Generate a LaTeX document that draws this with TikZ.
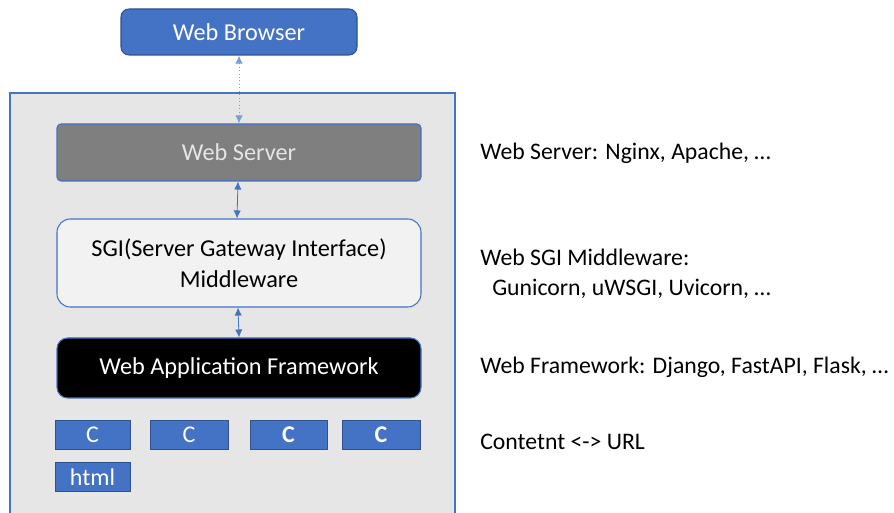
\documentclass[tikz,border=0pt]{standalone}
\usepackage{fontspec}
\setmainfont{Carlito}
\usetikzlibrary{arrows.meta}
\definecolor{accent}{HTML}{4472C4}
\definecolor{accentdark}{HTML}{2F528F}
\definecolor{panel}{HTML}{E7E6E6}
\definecolor{servergray}{HTML}{7F7F7F}
\definecolor{sgifill}{HTML}{F2F2F2}
\tikzset{
  px/.style={x=0.75pt,y=-0.75pt},
  layer/.style={draw=accent,line width=0.8pt,rounded corners=6pt,inner sep=0pt,
                font=\fontsize{18.2}{23.3}\selectfont,align=center},
  chip/.style={draw=accentdark,line width=0.6pt,fill=accent,text=white,inner sep=0pt,
               minimum height={29*0.75pt},font=\fontsize{18}{20}\selectfont},
  link/.style={draw=accent,line width=0.6pt,{Latex[length=6pt,width=5.5pt]}-{Latex[length=6pt,width=5.5pt]}},
  note/.style={anchor=west,inner sep=0pt,font=\fontsize{17.8}{22.5}\selectfont,align=left},
}
\begin{document}
\begin{tikzpicture}[px]
\useasboundingbox (0,0) rectangle (894,513);
% outer panel
\begin{scope}
\clip (0,0) rectangle (894,513);
\draw[draw=accent,line width=0.8pt,fill=panel] (10,93) rectangle (455,530);
\end{scope}

% browser and stack
\node[layer,fill=accent,draw=accentdark,text=white,minimum width={236*0.75pt},minimum height={46*0.75pt}]
  (browser) at (239,32) {Web Browser};
\node[layer,fill=servergray,text=white!90!black,rounded corners=3pt,minimum width={364*0.75pt},minimum height={57*0.75pt}]
  (server) at (239,152.5) {Web Server};
\node[layer,fill=sgifill,text=black,rounded corners=10pt,minimum width={364*0.75pt},minimum height={88*0.75pt}]
  (sgi) at (239,263) {SGI(Server Gateway Interface)\\Middleware};
\node[layer,fill=black,text=white,rounded corners=8pt,minimum width={364*0.75pt},minimum height={60*0.75pt}]
  (fw) at (239,368) {Web Application Framework};

% content chips
\node[chip,minimum width={75*0.75pt}] (c1) at (92.5,434.5) {C};
\node[chip,minimum width={78*0.75pt}] (c2) at (189,434.5) {C};
\node[chip,minimum width={77*0.75pt}] (c3) at (288.5,434.5) {\bfseries C};
\node[chip,minimum width={78*0.75pt}] (c4) at (381,434.5) {\bfseries C};
\node[chip,minimum width={75*0.75pt}] (html) at (92.5,477) {html};

% connectors
\draw[link,draw=accent!70,dotted] (browser.south) -- (server.north);
\draw[link] ([xshift=-0.75pt]server.south) -- ([xshift=-1.5pt]sgi.north);
\draw[link] ([xshift=-0.75pt]sgi.south) -- (fw.north);

% annotations
\node[note] (nserver) at (480,153) {Web Server: Nginx, Apache, …};
\node[note] (nsgi) at (480,274) {Web SGI Middleware:\\\hspace*{9pt}Gunicorn, uWSGI, Uvicorn, …};
\node[note] (nfw) at (480,367) {Web Framework: Django, FastAPI, Flask, …};
\node[note] (nurl) at (480,442) {Contetnt <-> URL};
\end{tikzpicture}
\end{document}
